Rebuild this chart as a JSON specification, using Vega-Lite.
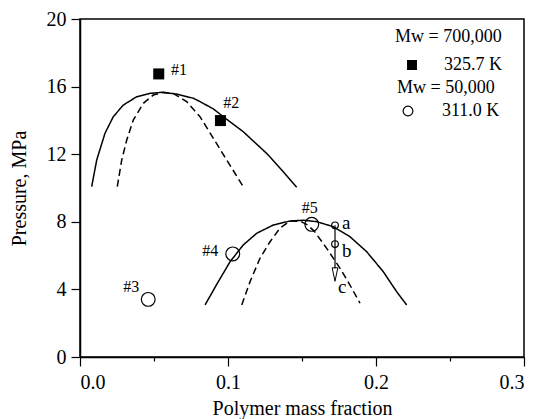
{
  "$schema": "https://vega.github.io/schema/vega-lite/v6.json",
  "width": 444,
  "height": 338,
  "autosize": {"type": "none"},
  "padding": {"left": 80, "top": 19, "right": 14, "bottom": 62},
  "background": "white",
  "config": {
    "font": "Liberation Serif",
    "view": {"stroke": "black", "strokeWidth": 1.5},
    "text": {"font": "Liberation Serif"},
    "axis": {
      "grid": false,
      "domainColor": "black",
      "domainWidth": 1.5,
      "tickColor": "black",
      "tickWidth": 1.2,
      "labelColor": "black",
      "labelFont": "Liberation Serif",
      "labelFontSize": 20,
      "titleColor": "black",
      "titleFont": "Liberation Serif",
      "titleFontSize": 20,
      "titleFontWeight": "normal"
    },
    "legend": {
      "titleFont": "Liberation Serif",
      "titleFontSize": 18,
      "titleFontWeight": "normal",
      "titleColor": "black",
      "labelFont": "Liberation Serif",
      "labelFontSize": 18,
      "labelColor": "black",
      "padding": 0
    }
  },
  "datasets": {
    "curves": [
      {"curve": "upper-A", "model": "A", "w": 0.0079, "p": 10.08},
      {"curve": "upper-A", "model": "A", "w": 0.0113, "p": 11.66},
      {"curve": "upper-A", "model": "A", "w": 0.0169, "p": 13.24},
      {"curve": "upper-A", "model": "A", "w": 0.0225, "p": 14.22},
      {"curve": "upper-A", "model": "A", "w": 0.0293, "p": 14.91},
      {"curve": "upper-A", "model": "A", "w": 0.0383, "p": 15.40},
      {"curve": "upper-A", "model": "A", "w": 0.0473, "p": 15.60},
      {"curve": "upper-A", "model": "A", "w": 0.0552, "p": 15.66},
      {"curve": "upper-A", "model": "A", "w": 0.0653, "p": 15.56},
      {"curve": "upper-A", "model": "A", "w": 0.0766, "p": 15.31},
      {"curve": "upper-A", "model": "A", "w": 0.0811, "p": 15.11},
      {"curve": "upper-A", "model": "A", "w": 0.0901, "p": 14.68},
      {"curve": "upper-A", "model": "A", "w": 0.0968, "p": 14.22},
      {"curve": "upper-A", "model": "A", "w": 0.1103, "p": 13.33},
      {"curve": "upper-A", "model": "A", "w": 0.1261, "p": 12.05},
      {"curve": "upper-A", "model": "A", "w": 0.1374, "p": 10.96},
      {"curve": "upper-A", "model": "A", "w": 0.1464, "p": 10.04},
      {"curve": "upper-B", "model": "B", "w": 0.0252, "p": 10.08},
      {"curve": "upper-B", "model": "B", "w": 0.0282, "p": 11.66},
      {"curve": "upper-B", "model": "B", "w": 0.0316, "p": 12.84},
      {"curve": "upper-B", "model": "B", "w": 0.0360, "p": 14.02},
      {"curve": "upper-B", "model": "B", "w": 0.0428, "p": 15.01},
      {"curve": "upper-B", "model": "B", "w": 0.0495, "p": 15.50},
      {"curve": "upper-B", "model": "B", "w": 0.0563, "p": 15.66},
      {"curve": "upper-B", "model": "B", "w": 0.0630, "p": 15.60},
      {"curve": "upper-B", "model": "B", "w": 0.0721, "p": 15.11},
      {"curve": "upper-B", "model": "B", "w": 0.0811, "p": 14.22},
      {"curve": "upper-B", "model": "B", "w": 0.0901, "p": 12.94},
      {"curve": "upper-B", "model": "B", "w": 0.0991, "p": 11.66},
      {"curve": "upper-B", "model": "B", "w": 0.1103, "p": 10.08},
      {"curve": "lower-A", "model": "A", "w": 0.0845, "p": 3.08},
      {"curve": "lower-A", "model": "A", "w": 0.0924, "p": 4.30},
      {"curve": "lower-A", "model": "A", "w": 0.1014, "p": 5.64},
      {"curve": "lower-A", "model": "A", "w": 0.1103, "p": 6.63},
      {"curve": "lower-A", "model": "A", "w": 0.1194, "p": 7.32},
      {"curve": "lower-A", "model": "A", "w": 0.1306, "p": 7.81},
      {"curve": "lower-A", "model": "A", "w": 0.1419, "p": 8.05},
      {"curve": "lower-A", "model": "A", "w": 0.1509, "p": 8.09},
      {"curve": "lower-A", "model": "A", "w": 0.1599, "p": 8.01},
      {"curve": "lower-A", "model": "A", "w": 0.1711, "p": 7.71},
      {"curve": "lower-A", "model": "A", "w": 0.1824, "p": 7.12},
      {"curve": "lower-A", "model": "A", "w": 0.1937, "p": 6.23},
      {"curve": "lower-A", "model": "A", "w": 0.2049, "p": 5.05},
      {"curve": "lower-A", "model": "A", "w": 0.2140, "p": 3.86},
      {"curve": "lower-A", "model": "A", "w": 0.2207, "p": 3.08},
      {"curve": "lower-B", "model": "B", "w": 0.1093, "p": 3.08},
      {"curve": "lower-B", "model": "B", "w": 0.1149, "p": 4.46},
      {"curve": "lower-B", "model": "B", "w": 0.1216, "p": 5.84},
      {"curve": "lower-B", "model": "B", "w": 0.1284, "p": 6.82},
      {"curve": "lower-B", "model": "B", "w": 0.1351, "p": 7.62},
      {"curve": "lower-B", "model": "B", "w": 0.1419, "p": 8.05},
      {"curve": "lower-B", "model": "B", "w": 0.1490, "p": 8.03},
      {"curve": "lower-B", "model": "B", "w": 0.1540, "p": 7.80},
      {"curve": "lower-B", "model": "B", "w": 0.1585, "p": 7.42},
      {"curve": "lower-B", "model": "B", "w": 0.1667, "p": 6.43},
      {"curve": "lower-B", "model": "B", "w": 0.1757, "p": 5.25},
      {"curve": "lower-B", "model": "B", "w": 0.1824, "p": 4.26},
      {"curve": "lower-B", "model": "B", "w": 0.1892, "p": 3.18}
    ],
    "highMw": [
      {"run": "#1", "temp": "325.7 K", "w": 0.0532, "p": 16.75},
      {"run": "#2", "temp": "325.7 K", "w": 0.0949, "p": 13.99}
    ],
    "lowMw": [
      {"run": "#3", "temp": "311.0 K", "w": 0.0461, "p": 3.41},
      {"run": "#4", "temp": "311.0 K", "w": 0.1032, "p": 6.10},
      {"run": "#5", "temp": "311.0 K", "w": 0.1566, "p": 7.85}
    ],
    "path": [
      {"state": "a", "w": 0.1723, "p": 7.79},
      {"state": "b", "w": 0.1723, "p": 6.68}
    ],
    "shaft": [
      {"w": 0.1723, "p": 7.79, "p2": 5.25}
    ],
    "head": [
      {"state": "c", "w": 0.1723, "p": 4.88}
    ],
    "runLabels": [
      {"text": "#1", "w": 0.0615, "p": 16.69},
      {"text": "#2", "w": 0.0968, "p": 14.72},
      {"text": "#3", "w": 0.0293, "p": 3.86},
      {"text": "#4", "w": 0.0826, "p": 5.98},
      {"text": "#5", "w": 0.1498, "p": 8.55}
    ],
    "stateLabels": [
      {"text": "a", "w": 0.1770, "p": 7.57},
      {"text": "b", "w": 0.1770, "p": 5.89},
      {"text": "c", "w": 0.1743, "p": 3.79}
    ]
  },
  "layer": [
    {
      "data": {"name": "curves"},
      "mark": {"type": "line", "color": "black", "strokeWidth": 1.5},
      "encoding": {
        "x": {
          "field": "w",
          "type": "quantitative",
          "scale": {"domain": [0, 0.3], "nice": false, "zero": false},
          "axis": {
            "title": "Polymer mass fraction",
            "labelFont": "Liberation Serif",
            "titleFont": "Liberation Serif",
            "values": [0, 0.05, 0.1, 0.15, 0.2, 0.25, 0.3],
            "labelExpr": "abs(datum.value * 10 - round(datum.value * 10)) < 0.001 ? format(datum.value, '.1f') : ''",
            "tickSize": {"condition": {"test": "abs(datum.value * 10 - round(datum.value * 10)) < 0.001", "value": 9}, "value": 4},
            "labelPadding": 6,
            "titlePadding": 6
          }
        },
        "y": {
          "field": "p",
          "type": "quantitative",
          "scale": {"domain": [0, 20], "nice": false},
          "axis": {
            "title": "Pressure, MPa",
            "labelFont": "Liberation Serif",
            "titleFont": "Liberation Serif",
            "values": [0, 1, 2, 3, 4, 5, 6, 7, 8, 9, 10, 11, 12, 13, 14, 15, 16, 17, 18, 19, 20],
            "labelExpr": "datum.value % 4 === 0 ? datum.label : ''",
            "tickSize": {"condition": {"test": "datum.value % 4 === 0", "value": 9}, "value": 5},
            "labelPadding": 5,
            "titlePadding": 17
          }
        },
        "detail": {"field": "curve"},
        "strokeDash": {
          "field": "model",
          "type": "nominal",
          "scale": {"domain": ["A", "B"], "range": [[1, 0], [7, 4]]},
          "legend": null
        }
      }
    },
    {
      "data": {"name": "highMw"},
      "mark": {"type": "point", "filled": true, "color": "black", "size": 121, "opacity": 1},
      "encoding": {
        "x": {"field": "w", "type": "quantitative"},
        "y": {"field": "p", "type": "quantitative"},
        "shape": {
          "field": "temp",
          "type": "nominal",
          "scale": {"domain": ["325.7 K"], "range": ["square"]},
          "legend": {
            "title": "Mw = 700,000",
            "orient": "none",
            "legendX": 315,
            "legendY": 9,
            "symbolSize": 100,
            "symbolFillColor": "black",
            "symbolStrokeColor": "black",
            "symbolOffset": 8,
            "labelOffset": 23,
            "titlePadding": 10
          }
        }
      }
    },
    {
      "data": {"name": "lowMw"},
      "mark": {"type": "point", "filled": false, "color": "black", "size": 190, "strokeWidth": 1.2, "opacity": 1},
      "encoding": {
        "x": {"field": "w", "type": "quantitative"},
        "y": {"field": "p", "type": "quantitative"},
        "shape": {
          "field": "temp",
          "type": "nominal",
          "scale": {"domain": ["311.0 K"], "range": ["circle"]},
          "legend": {
            "title": "Mw = 50,000",
            "orient": "none",
            "legendX": 317,
            "legendY": 60,
            "symbolSize": 95,
            "symbolFillColor": "white",
            "symbolStrokeColor": "black",
            "symbolStrokeWidth": 1.2,
            "symbolOffset": 2,
            "labelOffset": 25,
            "titlePadding": 5
          }
        }
      }
    },
    {
      "data": {"name": "path"},
      "mark": {"type": "point", "shape": "circle", "filled": false, "color": "black", "size": 45, "strokeWidth": 1.2, "opacity": 1},
      "encoding": {
        "x": {"field": "w", "type": "quantitative"},
        "y": {"field": "p", "type": "quantitative"}
      }
    },
    {
      "data": {"name": "shaft"},
      "mark": {"type": "rule", "color": "black", "strokeWidth": 1.2},
      "encoding": {
        "x": {"field": "w", "type": "quantitative"},
        "y": {"field": "p", "type": "quantitative"},
        "y2": {"field": "p2"}
      }
    },
    {
      "data": {"name": "head"},
      "mark": {"type": "point", "shape": "M-0.42,-1L0.42,-1L0,1Z", "filled": false, "color": "black", "size": 180, "strokeWidth": 1, "opacity": 1},
      "encoding": {
        "x": {"field": "w", "type": "quantitative"},
        "y": {"field": "p", "type": "quantitative"}
      }
    },
    {
      "data": {"name": "runLabels"},
      "mark": {"type": "text", "font": "Liberation Serif", "align": "left", "baseline": "alphabetic", "fontSize": 16, "color": "black"},
      "encoding": {
        "x": {"field": "w", "type": "quantitative"},
        "y": {"field": "p", "type": "quantitative"},
        "text": {"field": "text"}
      }
    },
    {
      "data": {"name": "stateLabels"},
      "mark": {"type": "text", "font": "Liberation Serif", "align": "left", "baseline": "alphabetic", "fontSize": 19, "color": "black"},
      "encoding": {
        "x": {"field": "w", "type": "quantitative"},
        "y": {"field": "p", "type": "quantitative"},
        "text": {"field": "text"}
      }
    }
  ],
  "resolve": {"scale": {"shape": "independent"}, "legend": {"shape": "independent"}}
}
